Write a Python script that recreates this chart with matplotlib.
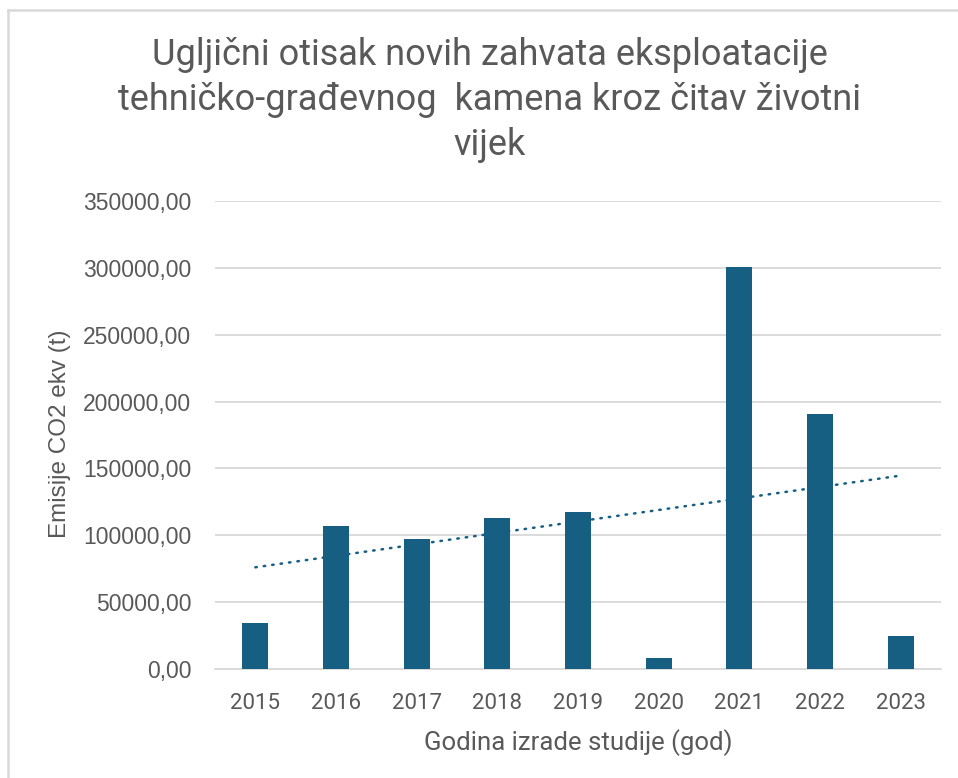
import matplotlib.pyplot as plt
import numpy as np
from matplotlib.lines import Line2D

years = ["2015", "2016", "2017", "2018", "2019", "2020", "2021", "2022", "2023"]
emissions = [34400, 107000, 97200, 112900, 117400, 8200, 301000, 190500, 24700]
y_ticks = [0, 50000, 100000, 150000, 200000, 250000, 300000, 350000]

title = "Ugljični otisak novih zahvata eksploatacije\ntehničko-građevnog  kamena kroz čitav životni\nvijek"
x_label = "Godina izrade studije (god)"
y_label = "Emisije CO2 ekv (t)"

bar_color = "#175F82"
text_color = "#595959"
grid_color = "#D9D9D9"

plt.rcParams['font.family'] = ['Roboto', 'DejaVu Sans']

fig = plt.figure(figsize=(9.58, 7.78), dpi=100)
ax = fig.add_axes([0.2244, 0.1401, 0.7579, 0.6015])

x = np.arange(len(years))
ax.bar(x, emissions, width=0.32, color=bar_color, zorder=3)

# linear trend line, drawn behind the bars
slope, intercept = np.polyfit(x, emissions, 1)
ax.plot(x, slope * x + intercept, color=bar_color, lw=1.8,
        linestyle=(0, (0.6, 2.8)), dash_capstyle='round', zorder=2)

ax.set_xlim(-0.5, len(years) - 0.5)
ax.set_ylim(0, 350000)
ax.set_xticks(x)
ax.set_xticklabels(years, fontsize=16)
ax.set_yticks(y_ticks)
ax.set_yticklabels([f"{v},00" for v in y_ticks], fontsize=16.5,
                   family=['Liberation Sans', 'DejaVu Sans'])
ax.tick_params(length=0, colors=text_color)
ax.tick_params(axis='y', pad=17)
ax.tick_params(axis='x', pad=17)

ax.grid(axis='y', color=grid_color, lw=1.3, zorder=0)
for s in ['top', 'right', 'left']:
    ax.spines[s].set_visible(False)
ax.spines['bottom'].set_color(grid_color)
ax.spines['bottom'].set_linewidth(1.3)

fig.text(578 / 958, 1 - 743 / 778, x_label, ha='center', va='center',
         color=text_color, fontsize=18.5)
fig.text(60 / 958, 1 - 434 / 778, y_label, ha='center', va='center',
         rotation=90, color=text_color, fontsize=17.5,
         family=['Liberation Sans', 'DejaVu Sans'])

fig.text(0.511, 1 - 100 / 778, title, ha='center', va='center', fontsize=26,
         color=text_color, linespacing=1.33)

# chart frame edges visible in the screenshot
fig.add_artist(Line2D([0.0083, 0.0083], [0, 0.987], color=grid_color, lw=1.8))
fig.add_artist(Line2D([0.0083, 1.0], [0.987, 0.987], color=grid_color, lw=1.8))

fig.savefig("out.png", dpi=100, facecolor="white")
